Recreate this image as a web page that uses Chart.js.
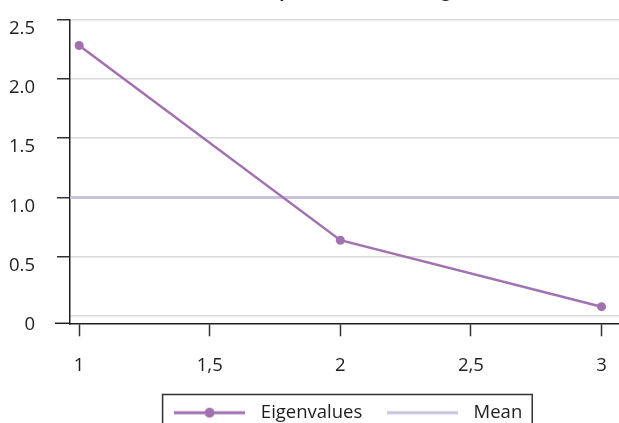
<!DOCTYPE html>
<html><head><meta charset="utf-8">
<script src="https://cdn.jsdelivr.net/npm/chart.js@4.4.1/dist/chart.umd.min.js"></script>
<style>
html,body{margin:0;padding:0;width:619px;height:423px;overflow:hidden;background:#fff;}
#wrap{position:absolute;left:0;top:-30px;width:625px;height:470px;}
</style></head><body>
<div id="wrap"><canvas id="c"></canvas></div>
<script>
const components = [1, 2, 3];
const eigenvalues = [2.28, 0.64, 0.08];
const meanValue = 1.0;
const xTickValues = [1, 1.5, 2, 2.5, 3];
const xTickLabels = ['1', '1,5', '2', '2,5', '3'];
const yTickValues = [0, 0.5, 1.0, 1.5, 2.0, 2.5];
const yTickLabels = ['0', '0.5', '1.0', '1.5', '2.0', '2.5'];
const xBounds = [0.965, 3.07];
const yBounds = [-0.06, 2.5];
const seriesLabels = ['Eigenvalues', 'Mean'];
const titleText = 'Scree plot with the average';

const eigenColor = '#a271b0';
const meanColor = '#c6c4da';
const inkColor = '#1e1e1e';
const FONT = '"Open Sans", "Noto Sans", sans-serif';
const FS = 18.5;

function sample(color, withPoint) {
  const c = document.createElement('canvas');
  c.width = 71; c.height = 12;
  const g = c.getContext('2d');
  g.strokeStyle = color; g.lineWidth = 3;
  g.beginPath(); g.moveTo(0, 6); g.lineTo(71, 6); g.stroke();
  if (withPoint) { g.fillStyle = color; g.beginPath(); g.arc(35.5, 6, 5, 0, Math.PI * 2); g.fill(); }
  return c;
}
const legendImgs = [sample(eigenColor, true), sample(meanColor, false)];

const decor = {
  id: 'decor',
  afterDraw(chart) {
    const ctx = chart.ctx, a = chart.chartArea;
    ctx.save();
    ctx.strokeStyle = inkColor; ctx.lineWidth = 1.5;
    ctx.beginPath(); ctx.moveTo(a.left - 15, a.bottom); ctx.lineTo(a.left, a.bottom); ctx.stroke();
    const hb = chart.legend && chart.legend.legendHitBoxes;
    if (hb && hb.length) {
      const l = Math.min(...hb.map(h => h.left));
      const r = Math.max(...hb.map(h => h.left + h.width));
      const t = Math.min(...hb.map(h => h.top));
      const b = Math.max(...hb.map(h => h.top + h.height));
      ctx.strokeStyle = '#333'; ctx.lineWidth = 1.5;
      ctx.strokeRect(l - 5, t - 9, r - l + 15, b - t + 20);
    }
    ctx.restore();
  }
};

new Chart(document.getElementById('c'), {
  type: 'line',
  data: {
    datasets: [
      {
        label: seriesLabels[0],
        data: components.map((x, i) => ({x: x, y: eigenvalues[i]})),
        borderColor: eigenColor, backgroundColor: eigenColor,
        borderWidth: 2.5, pointRadius: 4.5, pointBorderWidth: 0,
        pointBackgroundColor: eigenColor, tension: 0
      },
      {
        label: seriesLabels[1],
        data: xBounds.map(x => ({x: x, y: meanValue})),
        borderColor: meanColor, backgroundColor: meanColor,
        borderWidth: 3, pointRadius: 0, tension: 0
      }
    ]
  },
  options: {
    responsive: true, maintainAspectRatio: false, animation: false,
    layout: {padding: {left: 0, right: 0, top: 0, bottom: 8}},
    plugins: {
      tooltip: {enabled: false},
      title: {
        display: true, text: titleText, fullSize: false, color: inkColor,
        font: {family: FONT, size: 17, weight: 'bold'},
        padding: {top: 12, bottom: 17}
      },
      legend: {
        position: 'bottom', fullSize: false,
        labels: {
          usePointStyle: true, pointStyleWidth: 84, boxHeight: 12,
          color: inkColor, font: {family: FONT, size: FS}, padding: 18,
          generateLabels(chart) {
            const items = Chart.defaults.plugins.legend.labels.generateLabels(chart);
            items.forEach(it => { it.pointStyle = legendImgs[it.datasetIndex]; });
            return items;
          }
        }
      }
    },
    scales: {
      x: {
        type: 'linear', min: xBounds[0], max: xBounds[1],
        afterBuildTicks: s => { s.ticks = xTickValues.map(v => ({value: v})); },
        afterFit: s => { s.height -= 9; },
        grid: {drawOnChartArea: false, drawTicks: true, tickLength: 13, tickColor: '#333', tickWidth: 1.5},
        border: {display: true, color: inkColor, width: 1.5},
        ticks: {
          color: inkColor, font: {family: FONT, size: FS}, padding: 18, maxRotation: 0,
          callback: v => xTickLabels[xTickValues.indexOf(v)]
        }
      },
      y: {
        type: 'linear', min: yBounds[0], max: yBounds[1],
        afterBuildTicks: s => { s.ticks = yTickValues.map(v => ({value: v})); },
        afterFit: s => { s.width = 70; },
        grid: {
          color: '#dadada', lineWidth: 1.5, drawTicks: true, tickLength: 13, tickWidth: 1.5,
          tickColor: ctx => (ctx.tick && ctx.tick.value === 0) ? 'rgba(0,0,0,0)' : '#333'
        },
        border: {display: true, color: inkColor, width: 1.5},
        ticks: {
          color: inkColor, font: {family: FONT, size: FS}, padding: 22, labelOffset: 9,
          callback: v => yTickLabels[yTickValues.indexOf(v)]
        }
      }
    }
  },
  plugins: [decor]
});
</script>
</body></html>
